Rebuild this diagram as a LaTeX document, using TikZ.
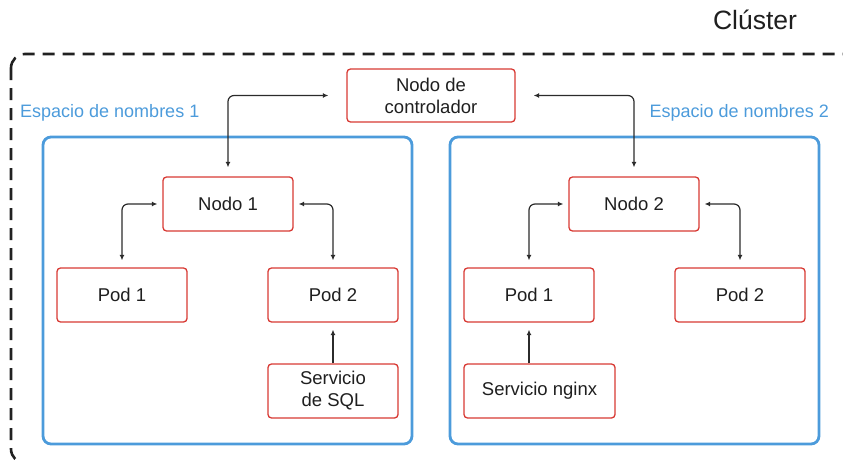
\documentclass[tikz,border=0pt]{standalone}
\usepackage{fontspec}
\setmainfont{Liberation Sans}
\usetikzlibrary{arrows.meta}
\definecolor{boxred}{HTML}{D83A34}
\definecolor{nsblue}{HTML}{4C9BDB}
\definecolor{linkgray}{HTML}{2B2B2B}
\tikzset{
  box/.style={draw=boxred, line width=1.3pt, rounded corners=3.5pt, fill=white,
    minimum width=130pt, minimum height=54pt, align=center, inner sep=2pt,
    font=\fontsize{18.5}{22}\selectfont, text=black!88},
  nsframe/.style={draw=nsblue, line width=2.8pt, rounded corners=8pt},
  nslabel/.style={text=nsblue, font=\fontsize{18}{22}\selectfont, inner sep=0pt},
  link/.style={draw=linkgray, line width=1.2pt, rounded corners=6pt,
    -{Latex[length=5.5pt,width=5pt]}},
  biglink/.style={link, {Latex[length=5.5pt,width=5pt]}-{Latex[length=5.5pt,width=5pt]}}
}
\begin{document}
\begin{tikzpicture}[x=1pt,y=-1pt]
\useasboundingbox (0,0) rectangle (843,460);
\clip (0,0) rectangle (843,460);

% cluster outline (continues past the right and bottom edges)
\draw[draw=black!87, line width=2.6pt, dash pattern=on 12pt off 8pt, rounded corners=14pt]
  (11,54) rectangle (870,463);
\node[font=\fontsize{26.5}{30}\selectfont, text=black!88] (cluster) at (755,20) {Clúster};

% namespace frames
\draw[nsframe] (43,137) rectangle (412,444);
\draw[nsframe] (450,137) rectangle (819,444);
\node[nslabel, anchor=west] (ns1) at (20,113) {Espacio de nombres 1};
\node[nslabel, anchor=east] (ns2) at (829,113) {Espacio de nombres 2};

% controller
\node[box, minimum width=168pt, minimum height=53pt] (ctrl) at (431,95.5) {Nodo de\\controlador};

% namespace 1
\node[box] (n1) at (228,204) {Nodo 1};
\node[box] (p11) at (122,295) {Pod 1};
\node[box] (p12) at (333,295) {Pod 2};
\node[box] (sql) at (333,391) {Servicio\\de SQL};

% namespace 2
\node[box] (n2) at (634,204) {Nodo 2};
\node[box] (p21) at (529,295) {Pod 1};
\node[box] (p22) at (740,295) {Pod 2};
\node[box, minimum width=151pt] (ngx) at (539.5,391) {Servicio nginx};

% connectors
\draw[biglink, shorten <=9pt, shorten >=18pt] (n1.north) |- (ctrl.west);
\draw[biglink, shorten <=9pt, shorten >=18pt] (n2.north) |- (ctrl.east);
\draw[biglink, shorten <=5pt, shorten >=7pt] (n1.west) -| (p11.north);
\draw[biglink, shorten <=5pt, shorten >=7pt] (n1.east) -| (p12.north);
\draw[biglink, shorten <=5pt, shorten >=7pt] (n2.west) -| (p21.north);
\draw[biglink, shorten <=5pt, shorten >=7pt] (n2.east) -| (p22.north);
\draw[link, shorten >=7pt] (sql.north) -- (p12.south);
\draw[link, shorten >=7pt] (ngx.north -| p21.south) -- (p21.south);
\end{tikzpicture}
\end{document}
